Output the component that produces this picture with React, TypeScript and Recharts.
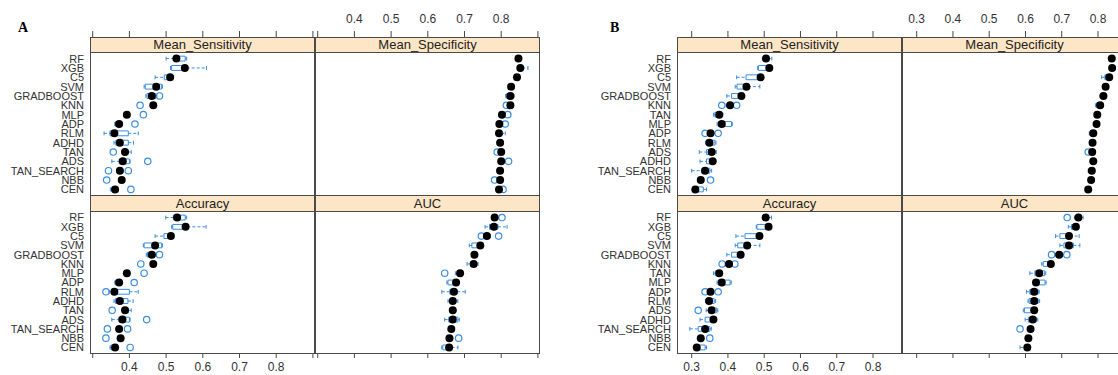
import React from 'react'
import { ScatterChart, Scatter, XAxis, YAxis, ReferenceArea, ReferenceLine } from 'recharts'

type Stat = [number, number, number, number, number] // lo whisker, q1, median, q3, hi whisker
type Outlier = [string, number]

const MODELS_A = ['RF', 'XGB', 'C5', 'SVM', 'GRADBOOST', 'KNN', 'MLP', 'ADP', 'RLM', 'ADHD', 'TAN', 'ADS', 'TAN_SEARCH', 'NBB', 'CEN']
const MODELS_B = ['RF', 'XGB', 'C5', 'SVM', 'GRADBOOST', 'KNN', 'TAN', 'MLP', 'ADP', 'RLM', 'ADS', 'ADHD', 'TAN_SEARCH', 'NBB', 'CEN']

const TICKS_A = [0.3, 0.4, 0.5, 0.6, 0.7, 0.8, 0.9]
const TICK_LABELS_A = [0.4, 0.5, 0.6, 0.7, 0.8]
const TICKS_B = [0.3, 0.4, 0.5, 0.6, 0.7, 0.8]
const TICK_LABELS_B = [0.3, 0.4, 0.5, 0.6, 0.7, 0.8]

// ---- figure A ----
const A_SENS: Stat[] = [
  [0.500, 0.522, 0.528, 0.552, 0.556], [0.512, 0.515, 0.551, 0.556, 0.610], [0.470, 0.495, 0.511, 0.516, 0.520],
  [0.440, 0.443, 0.473, 0.488, 0.490], [0.445, 0.448, 0.461, 0.472, 0.475], [0.458, 0.460, 0.465, 0.470, 0.472],
  [0.389, 0.391, 0.393, 0.396, 0.398], [0.360, 0.362, 0.372, 0.375, 0.377], [0.331, 0.347, 0.359, 0.397, 0.424],
  [0.358, 0.363, 0.374, 0.397, 0.411], [0.380, 0.384, 0.388, 0.396, 0.405], [0.352, 0.372, 0.382, 0.400, 0.402],
  [0.365, 0.370, 0.374, 0.378, 0.382], [0.372, 0.375, 0.379, 0.382, 0.385], [0.348, 0.352, 0.361, 0.365, 0.368],
]
const A_SENS_OUT: Outlier[] = [
  ['GRADBOOST', 0.482], ['KNN', 0.429], ['MLP', 0.438], ['ADP', 0.415], ['TAN', 0.356],
  ['ADS', 0.450], ['TAN_SEARCH', 0.343], ['TAN_SEARCH', 0.397], ['NBB', 0.338], ['CEN', 0.404],
]
const A_SPEC: Stat[] = [
  [0.843, 0.845, 0.847, 0.849, 0.851], [0.847, 0.849, 0.852, 0.857, 0.873], [0.838, 0.840, 0.843, 0.845, 0.847],
  [0.822, 0.824, 0.827, 0.830, 0.832], [0.812, 0.815, 0.825, 0.832, 0.835], [0.820, 0.822, 0.825, 0.828, 0.830],
  [0.798, 0.800, 0.802, 0.805, 0.807], [0.791, 0.793, 0.795, 0.798, 0.800], [0.790, 0.792, 0.794, 0.800, 0.811],
  [0.793, 0.795, 0.797, 0.799, 0.801], [0.796, 0.798, 0.800, 0.802, 0.804], [0.796, 0.798, 0.800, 0.803, 0.805],
  [0.789, 0.791, 0.797, 0.800, 0.802], [0.793, 0.795, 0.797, 0.799, 0.801], [0.790, 0.792, 0.794, 0.796, 0.798],
]
const A_SPEC_OUT: Outlier[] = [
  ['KNN', 0.814], ['MLP', 0.818], ['ADP', 0.811], ['TAN', 0.789], ['ADS', 0.820], ['NBB', 0.782], ['CEN', 0.805],
]
const A_ACC: Stat[] = [
  [0.499, 0.520, 0.530, 0.552, 0.556], [0.515, 0.518, 0.553, 0.558, 0.609], [0.470, 0.494, 0.513, 0.516, 0.520],
  [0.438, 0.440, 0.470, 0.488, 0.490], [0.446, 0.449, 0.461, 0.470, 0.474], [0.458, 0.461, 0.465, 0.471, 0.473],
  [0.389, 0.391, 0.393, 0.396, 0.398], [0.360, 0.362, 0.372, 0.375, 0.377], [0.345, 0.352, 0.359, 0.400, 0.424],
  [0.358, 0.362, 0.374, 0.396, 0.410], [0.381, 0.384, 0.388, 0.397, 0.405], [0.352, 0.371, 0.381, 0.400, 0.402],
  [0.364, 0.368, 0.372, 0.376, 0.380], [0.370, 0.373, 0.376, 0.380, 0.383], [0.347, 0.350, 0.361, 0.364, 0.367],
]
const A_ACC_OUT: Outlier[] = [
  ['GRADBOOST', 0.482], ['KNN', 0.431], ['MLP', 0.440], ['ADP', 0.413], ['RLM', 0.336], ['TAN', 0.353],
  ['ADS', 0.447], ['TAN_SEARCH', 0.340], ['TAN_SEARCH', 0.395], ['NBB', 0.336], ['CEN', 0.402],
]
const A_AUC: Stat[] = [
  [0.776, 0.779, 0.782, 0.786, 0.790], [0.756, 0.768, 0.780, 0.791, 0.816], [0.754, 0.757, 0.761, 0.765, 0.770],
  [0.713, 0.720, 0.743, 0.745, 0.748], [0.720, 0.723, 0.727, 0.731, 0.734], [0.707, 0.716, 0.725, 0.730, 0.737],
  [0.675, 0.680, 0.688, 0.692, 0.695], [0.652, 0.655, 0.677, 0.680, 0.683], [0.638, 0.660, 0.671, 0.680, 0.702],
  [0.655, 0.662, 0.668, 0.676, 0.682], [0.660, 0.664, 0.668, 0.672, 0.676], [0.646, 0.657, 0.668, 0.682, 0.686],
  [0.657, 0.660, 0.664, 0.668, 0.671], [0.652, 0.655, 0.659, 0.663, 0.667], [0.638, 0.641, 0.658, 0.665, 0.682],
]
const A_AUC_OUT: Outlier[] = [
  ['RF', 0.802], ['C5', 0.746], ['C5', 0.793], ['MLP', 0.646], ['NBB', 0.684],
]

// ---- figure B ----
const B_SENS: Stat[] = [
  [0.495, 0.498, 0.505, 0.510, 0.521], [0.482, 0.484, 0.514, 0.520, 0.523], [0.424, 0.450, 0.490, 0.492, 0.495],
  [0.420, 0.425, 0.451, 0.455, 0.488], [0.397, 0.410, 0.437, 0.441, 0.445], [0.395, 0.400, 0.406, 0.410, 0.415],
  [0.360, 0.364, 0.376, 0.383, 0.386], [0.370, 0.373, 0.383, 0.410, 0.412], [0.345, 0.348, 0.352, 0.356, 0.360],
  [0.338, 0.341, 0.349, 0.364, 0.367], [0.321, 0.341, 0.355, 0.364, 0.368], [0.323, 0.341, 0.358, 0.362, 0.366],
  [0.300, 0.328, 0.337, 0.350, 0.355], [0.320, 0.322, 0.325, 0.328, 0.330], [0.305, 0.307, 0.310, 0.332, 0.341],
]
const B_SENS_OUT: Outlier[] = [
  ['KNN', 0.383], ['KNN', 0.424], ['ADP', 0.337], ['ADP', 0.373], ['NBB', 0.352],
]
const B_SPEC: Stat[] = [
  [0.834, 0.836, 0.838, 0.840, 0.842], [0.835, 0.837, 0.839, 0.841, 0.843], [0.810, 0.819, 0.831, 0.833, 0.835],
  [0.817, 0.819, 0.821, 0.823, 0.825], [0.806, 0.810, 0.815, 0.817, 0.819], [0.793, 0.796, 0.806, 0.810, 0.812],
  [0.794, 0.796, 0.798, 0.800, 0.802], [0.792, 0.794, 0.796, 0.798, 0.800], [0.776, 0.778, 0.787, 0.792, 0.794],
  [0.781, 0.783, 0.785, 0.787, 0.789], [0.780, 0.782, 0.784, 0.786, 0.788], [0.783, 0.785, 0.787, 0.789, 0.791],
  [0.773, 0.778, 0.783, 0.785, 0.787], [0.776, 0.778, 0.781, 0.787, 0.789], [0.769, 0.771, 0.773, 0.775, 0.777],
]
const B_SPEC_OUT: Outlier[] = [['ADS', 0.773]]
const B_ACC: Stat[] = [
  [0.495, 0.498, 0.504, 0.510, 0.520], [0.478, 0.480, 0.512, 0.516, 0.520], [0.422, 0.447, 0.487, 0.490, 0.493],
  [0.420, 0.427, 0.453, 0.457, 0.488], [0.397, 0.410, 0.435, 0.440, 0.443], [0.393, 0.398, 0.403, 0.408, 0.412],
  [0.360, 0.365, 0.376, 0.382, 0.385], [0.370, 0.373, 0.383, 0.406, 0.409], [0.345, 0.348, 0.352, 0.356, 0.360],
  [0.338, 0.341, 0.348, 0.362, 0.366], [0.340, 0.350, 0.355, 0.369, 0.372], [0.323, 0.337, 0.360, 0.362, 0.365],
  [0.295, 0.318, 0.337, 0.350, 0.354], [0.320, 0.322, 0.325, 0.328, 0.330], [0.310, 0.312, 0.314, 0.337, 0.341],
]
const B_ACC_OUT: Outlier[] = [
  ['KNN', 0.384], ['KNN', 0.419], ['ADP', 0.337], ['ADP', 0.373], ['ADS', 0.318], ['NBB', 0.350],
]
const B_AUC: Stat[] = [
  [0.735, 0.740, 0.746, 0.750, 0.759], [0.718, 0.727, 0.739, 0.742, 0.745], [0.683, 0.695, 0.720, 0.722, 0.748],
  [0.695, 0.706, 0.720, 0.732, 0.750], [0.684, 0.688, 0.693, 0.698, 0.702], [0.645, 0.649, 0.670, 0.673, 0.676],
  [0.612, 0.626, 0.638, 0.653, 0.656], [0.622, 0.627, 0.629, 0.654, 0.657], [0.603, 0.612, 0.624, 0.635, 0.638],
  [0.607, 0.610, 0.624, 0.635, 0.639], [0.594, 0.597, 0.624, 0.627, 0.631], [0.599, 0.608, 0.620, 0.630, 0.634],
  [0.606, 0.609, 0.614, 0.618, 0.622], [0.602, 0.605, 0.608, 0.612, 0.615], [0.585, 0.600, 0.605, 0.609, 0.612],
]
const B_AUC_OUT: Outlier[] = [
  ['RF', 0.715], ['GRADBOOST', 0.672], ['GRADBOOST', 0.714], ['TAN_SEARCH', 0.585],
]

const BLUE = '#3a8de0'
const LINE = '#4a4a4a'
const STRIP_BG = '#fde6c6'
const FONT = '"Liberation Sans", Arial, sans-serif'

// lattice layout (page pixels)
const STRIP1_TOP = 37
const DATA1_TOP = 53
const DATA1_BOTTOM = 195
const DATA2_TOP = 212
const DATA2_BOTTOM = 353
const COL_W = 225

const openDot = (p: any) => (
  <circle cx={p.cx} cy={p.cy} r={3.2} fill="none" stroke={BLUE} strokeWidth={1.2} />
)
const fillDot = (p: any) => <circle cx={p.cx} cy={p.cy} r={4} fill="#000" />

function makeTick(y1: number, y2: number, labelY: number, labels: number[] | null) {
  return (p: any) => {
    const v = p.payload.value
    const show = labels && labels.some((l) => Math.abs(l - v) < 1e-6)
    return (
      <g>
        <line x1={p.x} x2={p.x} y1={y1} y2={y2} stroke={LINE} strokeWidth={1} />
        {show && (
          <text x={p.x} y={labelY} textAnchor="middle" dominantBaseline="central" fontSize={12} fill="#333">
            {v.toFixed(1)}
          </text>
        )}
      </g>
    )
  }
}

interface PanelProps {
  left: number
  top: number
  row: 0 | 1
  yAxisW: number
  models: string[]
  domain: [number, number]
  ticks: number[]
  labels: number[] | null
  stats: Stat[]
  outliers: Outlier[]
}

function Panel({ left, top, row, yAxisW, models, domain, ticks, labels, stats, outliers }: PanelProps) {
  const width = yAxisW + COL_W
  const height = row === 0 ? DATA1_BOTTOM : 375 - DATA2_TOP
  const xAxisH = row === 0 ? DATA1_TOP : 375 - DATA2_BOTTOM
  const plotBottom = DATA2_BOTTOM - DATA2_TOP
  const tick =
    row === 0
      ? makeTick(STRIP1_TOP - 6, STRIP1_TOP, 19, labels)
      : makeTick(plotBottom, plotBottom + 5, 367 - DATA2_TOP, labels)

  const medians = stats.map((s, i) => ({ x: s[2], y: i }))
  const outPts = outliers.map(([m, v]) => ({ x: v, y: models.indexOf(m) }))
  const h = 0.26

  return (
    <div style={{ position: 'absolute', left, top }}>
      <ScatterChart width={width} height={height} margin={{ top: 0, right: 0, bottom: 0, left: 0 }}>
        <XAxis
          type="number"
          dataKey="x"
          domain={domain}
          allowDataOverflow
          ticks={ticks}
          interval={0}
          orientation={row === 0 ? 'top' : 'bottom'}
          height={xAxisH}
          axisLine={false}
          tickLine={false}
          tick={tick}
        />
        <YAxis
          type="number"
          dataKey="y"
          domain={[-0.6, 14.6]}
          reversed
          allowDataOverflow
          ticks={models.map((_, i) => i)}
          interval={0}
          hide={yAxisW === 0}
          width={yAxisW}
          axisLine={false}
          tickLine={false}
          tickSize={0}
          tickMargin={6}
          tickFormatter={(v: number) => models[v] ?? ''}
          tick={{ fontSize: 11, fill: '#333' }}
        />
        {stats.flatMap(([lo, q1, , q3, hi], i) => [
          <ReferenceLine key={`wl${i}`} segment={[{ x: lo, y: i }, { x: q1, y: i }]} stroke={BLUE} strokeDasharray="3 2" />,
          <ReferenceLine key={`wh${i}`} segment={[{ x: q3, y: i }, { x: hi, y: i }]} stroke={BLUE} strokeDasharray="3 2" />,
          <ReferenceLine key={`cl${i}`} segment={[{ x: lo, y: i - h * 0.8 }, { x: lo, y: i + h * 0.8 }]} stroke={BLUE} />,
          <ReferenceLine key={`ch${i}`} segment={[{ x: hi, y: i - h * 0.8 }, { x: hi, y: i + h * 0.8 }]} stroke={BLUE} />,
          <ReferenceArea
            key={`b${i}`}
            x1={q1}
            x2={q3}
            y1={i - h}
            y2={i + h}
            fill="#fff"
            fillOpacity={0}
            stroke={BLUE}
            strokeWidth={1}
          />,
        ])}
        <Scatter data={outPts} shape={openDot} isAnimationActive={false} />
        <Scatter data={medians} shape={fillDot} isAnimationActive={false} />
      </ScatterChart>
    </div>
  )
}

function Strip({ left, top, height, text }: { left: number; top: number; height: number; text: string }) {
  return (
    <div
      style={{
        position: 'absolute',
        left,
        top,
        width: COL_W,
        height,
        boxSizing: 'border-box',
        background: STRIP_BG,
        border: `1px solid ${LINE}`,
        fontSize: 13,
        color: '#222',
        lineHeight: `${height - 2}px`,
        textAlign: 'center',
      }}
    >
      {text}
    </div>
  )
}

function Frame({ left, top, height }: { left: number; top: number; height: number }) {
  return (
    <div
      style={{
        position: 'absolute',
        left,
        top,
        width: COL_W,
        height,
        boxSizing: 'border-box',
        border: `1px solid ${LINE}`,
        pointerEvents: 'none',
      }}
    />
  )
}

interface LatticeProps {
  x0: number
  yAxisW: number
  letter: string
  letterX: number
  models: string[]
  domain: [number, number]
  ticks: number[]
  labels: number[]
  sens: Stat[]
  sensOut: Outlier[]
  spec: Stat[]
  specOut: Outlier[]
  acc: Stat[]
  accOut: Outlier[]
  auc: Stat[]
  aucOut: Outlier[]
}

function Lattice(p: LatticeProps) {
  const x1 = p.x0 + COL_W
  const common = { models: p.models, domain: p.domain, ticks: p.ticks }
  return (
    <>
      <div
        style={{
          position: 'absolute',
          left: p.letterX,
          top: 20,
          fontFamily: '"Liberation Serif", "Times New Roman", serif',
          fontWeight: 'bold',
          fontSize: 14,
        }}
      >
        {p.letter}
      </div>
      <Panel left={p.x0 - p.yAxisW} top={0} row={0} yAxisW={p.yAxisW} labels={null} stats={p.sens} outliers={p.sensOut} {...common} />
      <Panel left={x1} top={0} row={0} yAxisW={0} labels={p.labels} stats={p.spec} outliers={p.specOut} {...common} />
      <Panel left={p.x0 - p.yAxisW} top={DATA2_TOP} row={1} yAxisW={p.yAxisW} labels={p.labels} stats={p.acc} outliers={p.accOut} {...common} />
      <Panel left={x1} top={DATA2_TOP} row={1} yAxisW={0} labels={null} stats={p.auc} outliers={p.aucOut} {...common} />
      <Frame left={p.x0} top={DATA1_TOP - 1} height={DATA1_BOTTOM - DATA1_TOP + 2} />
      <Frame left={x1} top={DATA1_TOP - 1} height={DATA1_BOTTOM - DATA1_TOP + 2} />
      <Frame left={p.x0} top={DATA2_TOP - 1} height={DATA2_BOTTOM - DATA2_TOP + 2} />
      <Frame left={x1} top={DATA2_TOP - 1} height={DATA2_BOTTOM - DATA2_TOP + 2} />
      <Strip left={p.x0} top={STRIP1_TOP} height={DATA1_TOP - STRIP1_TOP} text="Mean_Sensitivity" />
      <Strip left={x1} top={STRIP1_TOP} height={DATA1_TOP - STRIP1_TOP} text="Mean_Specificity" />
      <Strip left={p.x0} top={DATA1_BOTTOM} height={DATA2_TOP - DATA1_BOTTOM} text="Accuracy" />
      <Strip left={x1} top={DATA1_BOTTOM} height={DATA2_TOP - DATA1_BOTTOM} text="AUC" />
    </>
  )
}

export default function App() {
  return (
    <div
      style={{
        position: 'absolute',
        left: 0,
        top: 0,
        width: 1118,
        height: 375,
        overflow: 'hidden',
        background: '#fff',
        fontFamily: FONT,
      }}
    >
      <Lattice
        x0={90}
        yAxisW={90}
        letter="A"
        letterX={18}
        models={MODELS_A}
        domain={[0.2926, 0.9057]}
        ticks={TICKS_A}
        labels={TICK_LABELS_A}
        sens={A_SENS}
        sensOut={A_SENS_OUT}
        spec={A_SPEC}
        specOut={A_SPEC_OUT}
        acc={A_ACC}
        accOut={A_ACC_OUT}
        auc={A_AUC}
        aucOut={A_AUC_OUT}
      />
      <Lattice
        x0={677}
        yAxisW={107}
        letter="B"
        letterX={610}
        models={MODELS_B}
        domain={[0.2595, 0.88]}
        ticks={TICKS_B}
        labels={TICK_LABELS_B}
        sens={B_SENS}
        sensOut={B_SENS_OUT}
        spec={B_SPEC}
        specOut={B_SPEC_OUT}
        acc={B_ACC}
        accOut={B_ACC_OUT}
        auc={B_AUC}
        aucOut={B_AUC_OUT}
      />
    </div>
  )
}
